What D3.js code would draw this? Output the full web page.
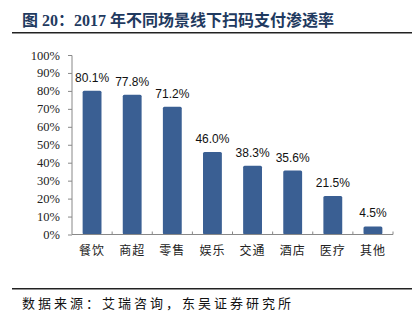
<!DOCTYPE html>
<html><head><meta charset="utf-8">
<script src="https://cdn.jsdelivr.net/npm/d3@7"></script>
<style>body{margin:0;background:#fff}svg{display:block}</style>
</head><body>
<script>
const categories = ["餐饮","商超","零售","娱乐","交通","酒店","医疗","其他"];
const values = [80.1,77.8,71.2,46.0,38.3,35.6,21.5,4.5];
const yTicks = [0,10,20,30,40,50,60,70,80,90,100];
const title = "图 20：2017 年不同场景线下扫码支付渗透率";
const source = "数据来源：艾瑞咨询，东吴证券研究所";

const W=414,H=334;
const svg=d3.select("body").append("svg").attr("width",W).attr("height",H);
const x=d3.scaleBand().domain(categories).range([72,393]).paddingInner(0.53).paddingOuter(0.265);
const y=d3.scaleLinear().domain([0,100]).range([234.5,55]);

svg.append("text").attr("x",22).attr("y",26).attr("fill","#1f3a60")
  .attr("font-family","'Liberation Serif','Noto Sans CJK SC',serif").attr("font-weight","bold")
  .attr("font-size",16).text(title);
svg.append("line").attr("x1",12).attr("x2",412).attr("y1",32.8).attr("y2",32.8).attr("stroke","#222").attr("stroke-width",1.6);

// y axis
const ya=svg.append("g").attr("transform","translate(72,0)")
  .call(d3.axisLeft(y).tickValues(yTicks).tickSize(4).tickFormat(d=>d+"%"));
ya.select(".domain").attr("stroke","#888").attr("d","M-4,55.5H0V234.5");
ya.selectAll(".tick line").attr("stroke","#888");
ya.selectAll(".tick text").attr("font-family","'Liberation Serif',serif").attr("font-size",12.5).attr("fill","#222").attr("x",-12);

// bars
svg.selectAll("rect.bar").data(values).enter().append("rect")
  .attr("x",(d,i)=>x(categories[i])).attr("width",x.bandwidth())
  .attr("y",d=>y(d)).attr("height",d=>y(0)-y(d)).attr("rx",1.5).attr("fill","#3a5f93");
svg.selectAll("text.val").data(values).enter().append("text")
  .attr("x",(d,i)=>x(categories[i])+x.bandwidth()/2).attr("y",d=>y(d)-9)
  .attr("text-anchor","middle").attr("font-family","'Liberation Sans',Arial,sans-serif")
  .attr("font-size",12).attr("fill","#111").text(d=>d.toFixed(1)+"%");

// x axis
const xa=svg.append("g").attr("transform","translate(0,234.5)")
  .call(d3.axisBottom(x).tickSize(0).tickPadding(12));
xa.select(".domain").attr("stroke","#888").attr("d","M72,0H393V-3");
xa.selectAll(".tick text").attr("font-family","'Noto Sans CJK SC',sans-serif").attr("font-size",12).attr("fill","#222").attr("letter-spacing",1);
const step=x.step();
svg.append("g").selectAll("line").data(d3.range(1,8)).enter().append("line")
  .attr("x1",d=>72+d*step).attr("x2",d=>72+d*step).attr("y1",234.5).attr("y2",231.5).attr("stroke","#888");

svg.append("line").attr("x1",12).attr("x2",412).attr("y1",288.8).attr("y2",288.8).attr("stroke","#222").attr("stroke-width",1.6);
svg.append("text").attr("x",22).attr("y",308).attr("font-family","'Noto Sans CJK SC',sans-serif")
  .attr("font-size",13).attr("letter-spacing",3).attr("fill","#111").text(source);
</script>
</body></html>
